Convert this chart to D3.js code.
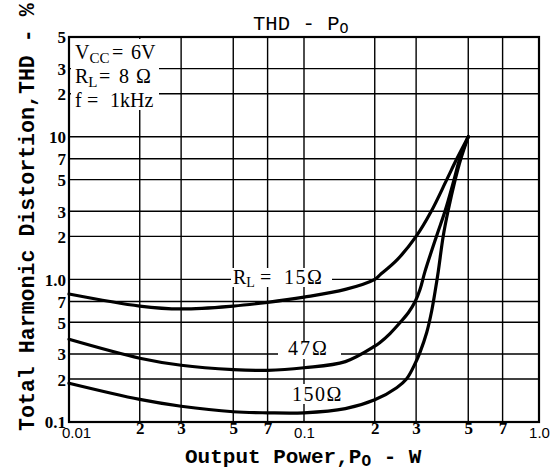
<!DOCTYPE html>
<html><head><meta charset="utf-8">
<script src="https://cdn.jsdelivr.net/npm/d3@7"></script>
<style>body{margin:0;background:#fff}svg{display:block}</style>
</head><body>
<svg id="c" width="557" height="474"></svg>
<script>
// ---- data ----
const xTickValues = [0.01,0.02,0.03,0.05,0.07,0.1,0.2,0.3,0.5,0.7,1.0];
const xTickLabels = ["0.01","2","3","5","7","0.1","2","3","5","7","1.0"];
const yTickValues = [0.1,0.2,0.3,0.5,0.7,1,2,3,5,7,10,20,30,50];
const yTickLabels = ["0.1","2","3","5","7","1.0","2","3","5","7","10","2","3","5"];
const xGrid = [0.02,0.03,0.05,0.07,0.1,0.2,0.3,0.5,0.7];
const yGrid = [0.2,0.3,0.5,0.7,1,2,3,5,7,10,20,30];

const power15 = [0.01,0.02,0.03,0.05,0.07,0.1,0.15,0.2,0.21,0.25,0.3,0.348,0.405,0.447,0.5];
const thd15   = [0.79,0.65,0.62,0.65,0.69,0.75,0.85,1.0,1.07,1.38,2.0,3.0,5.0,7.0,10];
const power47 = [0.01,0.02,0.03,0.05,0.07,0.1,0.15,0.2,0.2106,0.2323,0.2562,0.2779,0.2968,0.3116,0.3273,0.366,0.398,0.435,0.46,0.5];
const thd47   = [0.38,0.28,0.25,0.233,0.23,0.24,0.265,0.34,0.361,0.417,0.497,0.583,0.696,0.848,1.137,2.0,3.0,5.0,7.0,10];
const power150 = [0.01,0.02,0.03,0.05,0.07,0.1,0.15,0.2,0.248,0.2735,0.2968,0.3116,0.3328,0.3494,0.361,0.3727,0.391,0.41,0.44,0.465,0.5];
const thd150   = [0.187,0.144,0.129,0.118,0.116,0.116,0.124,0.143,0.174,0.201,0.256,0.308,0.424,0.6,0.816,1.137,2.0,3.0,5.0,7.0,10];

// ---- layout ----
const svg = d3.select("#c");
svg.append("rect").attr("width",557).attr("height",474).attr("fill","#fff");
const x = d3.scaleLog().domain([0.01,1]).range([69,539]);
const y = d3.scaleLog().domain([0.1,50]).range([422,37]);
const mono = "'Liberation Mono', 'DejaVu Sans Mono', monospace";
const serif = "'Liberation Serif', 'DejaVu Serif', serif";
const sans = "'Liberation Sans', Arial, sans-serif";

// grid
const g = svg.append("g").attr("stroke","#000").attr("stroke-width",1.4);
g.selectAll("line.v").data(xGrid).join("line").attr("class","v")
  .attr("x1",d=>x(d)).attr("x2",d=>x(d)).attr("y1",y(50)).attr("y2",y(0.1));
g.selectAll("line.h").data(yGrid).join("line").attr("class","h")
  .attr("y1",d=>y(d)).attr("y2",d=>y(d)).attr("x1",x(0.01)).attr("x2",x(1));

// white areas behind labels (breaks in grid)
const wb = svg.append("g").attr("fill","#fff");
wb.append("rect").attr("x",71).attr("y",39).attr("width",88).attr("height",71);
wb.append("rect").attr("x",231).attr("y",268).attr("width",101).attr("height",19);
wb.append("rect").attr("x",278).attr("y",341).attr("width",63).attr("height",18);
wb.append("rect").attr("x",290).attr("y",384).attr("width",55).attr("height",20);

// curves
const line = d3.line().x(d=>x(d[0])).y(d=>y(d[1])).curve(d3.curveCatmullRom.alpha(0.5));
const series = [[power15,thd15],[power47,thd47],[power150,thd150]];
svg.append("g").selectAll("path").data(series).join("path")
  .attr("d",s=>line(s[0].map((p,i)=>[p,s[1][i]])))
  .attr("fill","none").attr("stroke","#000").attr("stroke-width",3.2)
  .attr("stroke-linejoin","round").attr("stroke-linecap","round");

// border
svg.append("rect").attr("x",x(0.01)).attr("y",y(50))
  .attr("width",x(1)-x(0.01)).attr("height",y(0.1)-y(50))
  .attr("fill","none").attr("stroke","#000").attr("stroke-width",2.2);

// axes
const xa = svg.append("g").attr("transform",`translate(0,${y(0.1)})`)
  .call(d3.axisBottom(x).tickValues(xTickValues).tickFormat((d,i)=>xTickLabels[i]).tickSize(0).tickPadding(0));
xa.select(".domain").remove();
xa.selectAll("text").attr("fill","#000").each(function(d,i){
  const t = d3.select(this);
  if (xTickLabels[i].includes(".")) {
    t.attr("font-family",sans).attr("font-size",15).attr("dy","1.05em");
    if (i===0) t.attr("dx",7);
  } else {
    t.attr("font-family",serif).attr("font-weight","bold").attr("font-size",17).attr("dy","0.72em");
  }
});
const ya = svg.append("g").attr("transform",`translate(${x(0.01)},0)`)
  .call(d3.axisLeft(y).tickValues(yTickValues).tickFormat((d,i)=>yTickLabels[i]).tickSize(0).tickPadding(3));
ya.select(".domain").remove();
ya.selectAll("text").attr("fill","#000").attr("font-family",serif).attr("font-weight","bold").attr("font-size",17)
  .attr("dy","0.35em");

// titles
const tt = svg.append("text").attr("x",253).attr("y",30).attr("font-family",mono).attr("font-size",20.6).attr("fill","#000");
tt.append("tspan").text("THD - P");
tt.append("tspan").attr("font-size",15).attr("dy",3).text("O");

const xt = svg.append("text").attr("x",185).attr("y",463).attr("font-family",mono).attr("font-weight","bold").attr("font-size",21).attr("fill","#000");
xt.append("tspan").text("Output Power,P");
xt.append("tspan").attr("font-size",16).attr("dy",3).text("O");
xt.append("tspan").attr("dy",-3).text(" - W");

svg.append("text").attr("transform","translate(34,431) rotate(-90)")
  .attr("font-family",mono).attr("font-weight","bold").attr("font-size",21.6).attr("fill","#000")
  .text("Total Harmonic Distortion,THD - %");

// conditions
const ann = svg.append("g").attr("font-family",serif).attr("font-size",20).attr("fill","#000");
const a1 = ann.append("text").attr("x",75).attr("y",59);
a1.append("tspan").text("V");
a1.append("tspan").attr("font-size",15).attr("dy",4).text("CC");
a1.append("tspan").attr("dy",-4).attr("x",112).text("=");
a1.append("tspan").attr("x",131).text("6V");
const a2 = ann.append("text").attr("x",75).attr("y",83);
a2.append("tspan").text("R");
a2.append("tspan").attr("font-size",15).attr("dy",4).text("L");
a2.append("tspan").attr("dy",-4).attr("x",99).text("=");
a2.append("tspan").attr("x",119).text("8");
a2.append("tspan").attr("x",136).text("Ω");
const a3 = ann.append("text").attr("x",75).attr("y",107);
a3.append("tspan").text("f");
a3.append("tspan").attr("x",87).text("=");
a3.append("tspan").attr("x",110).text("1kHz");

// curve labels
const cl = svg.append("g").attr("font-family",serif).attr("font-size",20).attr("fill","#000");
const c1 = cl.append("text").attr("x",233).attr("y",284);
c1.append("tspan").text("R");
c1.append("tspan").attr("font-size",14).attr("dy",3).text("L");
c1.append("tspan").attr("dy",-3).attr("x",260).text("=");
c1.append("tspan").attr("x",284).attr("letter-spacing",1.5).text("15Ω");
cl.append("text").attr("x",288).attr("y",355).attr("letter-spacing",2).text("47Ω");
cl.append("text").attr("x",292).attr("y",401).attr("letter-spacing",1.5).text("150Ω");
</script>
</body></html>
